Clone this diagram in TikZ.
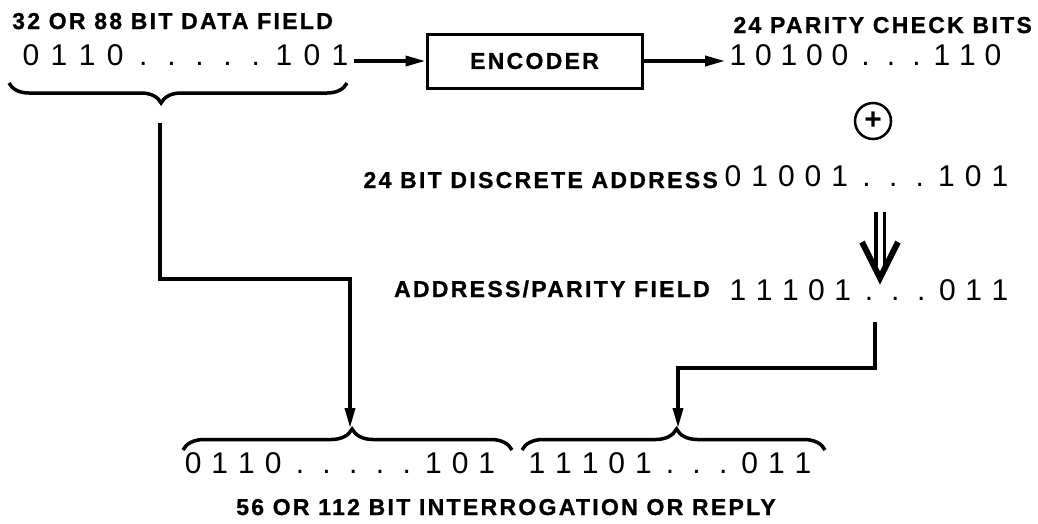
\documentclass[tikz,border=0pt]{standalone}
\usepackage{fontspec}
\setmainfont{Liberation Sans}
\newfontfamily\lblfont[LetterSpace=10,FakeBold=1]{Liberation Sans}
\usetikzlibrary{arrows.meta,decorations.pathreplacing}

\newcommand\bitw{27pt}
\def\bitloop#1{\ifx#1\relax\else\makebox[\bitw]{#1}\expandafter\bitloop\fi}
\newcommand\bits[2]{\renewcommand\bitw{#1}\bitloop#2\relax}

\tikzset{
  lbl/.style={font=\lblfont\fontsize{23}{26}\selectfont\bfseries, inner sep=0pt},
  bitrow/.style={font=\fontsize{30}{32}\selectfont, inner sep=0pt},
  wire/.style={line width=3.5pt},
  arr/.style={wire, -{Triangle[length=20pt,width=10pt]}},
  brc/.style={decorate, line width=3.5pt}
}

\begin{document}
\begin{tikzpicture}[x=1pt,y=-1pt]
  \useasboundingbox (0,0) rectangle (1038,523);

  \node[lbl, anchor=base west] (datalbl) at (12,29) {32 OR 88 BIT DATA FIELD};
  \node[bitrow, anchor=base] (databits) at (185.5,65) {\bits{28.1pt}{0110.....101}};
  \node[lbl, draw, line width=3pt, minimum width=215pt, minimum height=54pt]
    (enc) at (534.5,61) {ENCODER};
  \node[lbl, anchor=base east] (paritylbl) at (1032,33) {24 PARITY CHECK BITS};
  \node[bitrow, anchor=base] (paritybits) at (865.5,65) {\bits{25.5pt}{10100...110}};

  \node[circle, draw, line width=2.5pt, minimum size=36pt, inner sep=0pt,
    font=\fontsize{30}{30}\selectfont\bfseries] (xor) at (873,121) {+};

  \node[lbl, anchor=base east] (addrlbl) at (718,188) {24 BIT DISCRETE ADDRESS};
  \node[bitrow, anchor=base] (addrbits) at (866.5,186) {\bits{26.7pt}{01001...101}};
  \node[lbl, anchor=base east] (aplbl) at (710,297) {ADDRESS/PARITY FIELD};
  \node[bitrow, anchor=base] (apbits) at (869,300) {\bits{26.2pt}{11101...011}};

  \node[bitrow, anchor=base] (outdata) at (340,473) {\bits{26.7pt}{0110.....101}};
  \node[bitrow, anchor=base] (outap) at (670,473) {\bits{26.6pt}{11101...011}};
  \node[lbl, anchor=base] (outlbl) at (506,515) {56 OR 112 BIT INTERROGATION OR REPLY};

  \draw[arr] (databits.east |- enc.west) -- (enc.west);
  \draw[arr] (enc.east) -- (paritybits.west |- enc.east);

  \coordinate (dtop) at (880,212);
  \coordinate (dtip) at (880,278);
  \draw[line width=3.5pt, double distance=5pt] (dtop) -- ++(0,54);
  \draw[line width=6pt, line join=miter] (862,242) -- (dtip) -- (898,242);

  \draw[brc, decoration={brace, mirror, amplitude=20pt, aspect=0.45}]
    (9,83) -- (347,83);
  \draw[brc, decoration={brace, amplitude=21pt, aspect=0.514}]
    (183,450) -- (512,450);
  \draw[brc, decoration={brace, amplitude=21pt, aspect=0.51}]
    (522,450) -- (825,450);

  \coordinate (dtap) at (160,123);
  \coordinate (lbend) at (350,279);
  \coordinate (lbtip) at (350,428);
  \draw[arr] (dtap) |- (lbend) -- (lbtip);

  \coordinate (rtap) at (875,322);
  \coordinate (rbend) at (678,368);
  \coordinate (rbtip) at (678,428);
  \draw[arr] (rtap) |- (rbend) -- (rbtip);
\end{tikzpicture}
\end{document}
